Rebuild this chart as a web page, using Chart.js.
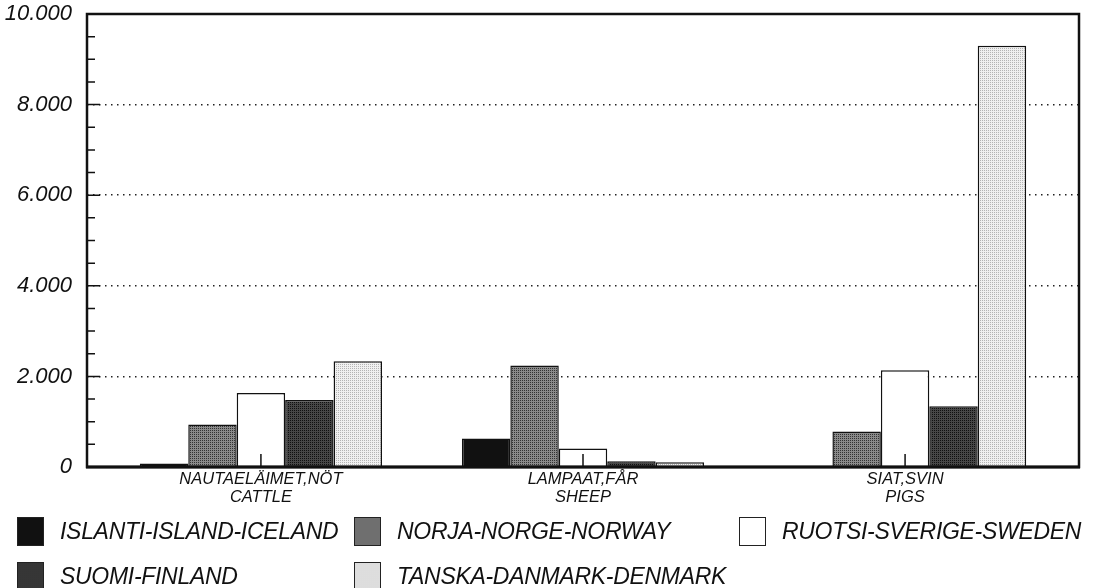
<!DOCTYPE html>
<html>
<head>
<meta charset="utf-8">
<script src="https://cdn.jsdelivr.net/npm/chart.js@4.4.1/dist/chart.umd.min.js"></script>
<style>
  html, body { margin: 0; padding: 0; background: #fff; }
  #wrap { position: relative; width: 1095px; height: 588px; }
  #legend { position: absolute; left: 0; top: 0; width: 1095px; height: 588px; pointer-events: none;
    font-family: "Liberation Sans", Arial, sans-serif; font-style: italic; font-size: 23px; letter-spacing: -0.3px; color: #111; }
  .item { position: absolute; height: 29px; display: flex; align-items: center; white-space: nowrap; }
  .box { width: 27px; height: 29px; box-sizing: border-box; border: 1.5px solid #222; margin-right: 16px; }
</style>
</head>
<body>
<div id="wrap">
  <canvas id="chart" width="1095" height="588"></canvas>
  <div id="legend"></div>
</div>
<script>
const categories = [['NAUTAELÄIMET,NÖT', 'CATTLE'], ['LAMPAAT,FÅR', 'SHEEP'], ['SIAT,SVIN', 'PIGS']]
const countries = ['ISLANTI-ISLAND-ICELAND', 'NORJA-NORGE-NORWAY', 'RUOTSI-SVERIGE-SWEDEN', 'SUOMI-FINLAND', 'TANSKA-DANMARK-DENMARK']

const iceland = [75, 630, 0]
const norway = [940, 2240, 785]
const sweden = [1635, 410, 2135]
const finland = [1480, 125, 1340]
const denmark = [2335, 105, 9300]

const yTicks = [0, 2000, 4000, 6000, 8000, 10000]

// screen fills: base grey plus a dot grey on a 2px grid
const shades = [
  ['#111111', '#111111'],
  ['#8a8a8a', '#333333'],
  ['#ffffff', '#ffffff'],
  ['#474747', '#101010'],
  ['#f0f0f0', '#b4b4b4']
]

const makePattern = (base, dot) => {
  const c = document.createElement('canvas')
  c.width = 2; c.height = 2
  const g = c.getContext('2d')
  g.fillStyle = base; g.fillRect(0, 0, 2, 2)
  g.fillStyle = dot; g.fillRect(0, 0, 1, 1)
  return g.createPattern(c, 'repeat')
}

const ctx = document.getElementById('chart').getContext('2d')

const seriesList = [iceland, norway, sweden, finland, denmark]
const datasets = seriesList.map((vals, i) => ({
  label: countries[i],
  data: vals.map((v, j) => ({ x: j, y: v })),
  backgroundColor: makePattern(shades[i][0], shades[i][1]),
  borderColor: '#111',
  borderWidth: 1.5,
  borderSkipped: 'bottom'
}))

const font = { family: '"Liberation Sans", Arial, sans-serif', style: 'italic' }

// inward ticks, category ticks and the box round the plot
const framePlugin = {
  id: 'frame',
  afterDatasetsDraw(chart) {
    const { ctx, chartArea: a, scales: { x, y } } = chart
    ctx.save()
    ctx.strokeStyle = '#111'
    ctx.lineWidth = 1.5
    ctx.beginPath()
    for (let v = 500; v < 10000; v += 500) {
      const py = y.getPixelForValue(v)
      const len = v % 2000 === 0 ? 13 : 8
      ctx.moveTo(a.left, py)
      ctx.lineTo(a.left + len, py)
    }
    for (let i = 0; i < categories.length; i++) {
      const px = x.getPixelForValue(i)
      ctx.moveTo(px, a.bottom)
      ctx.lineTo(px, a.bottom - 13)
    }
    ctx.stroke()
    ctx.lineWidth = 2.5
    ctx.strokeRect(a.left, a.top, a.right - a.left, a.bottom - a.top)
    ctx.lineWidth = 3
    ctx.beginPath()
    ctx.moveTo(a.left - 1, a.bottom)
    ctx.lineTo(a.right + 1, a.bottom)
    ctx.stroke()
    ctx.restore()
  }
}

new Chart(ctx, {
  type: 'bar',
  data: { datasets },
  plugins: [framePlugin],
  options: {
    responsive: false,
    animation: false,
    events: [],
    layout: { padding: { top: 14, right: 16, bottom: 78, left: 0 } },
    datasets: { bar: { categoryPercentage: 0.752, barPercentage: 1 } },
    plugins: { legend: { display: false }, tooltip: { enabled: false } },
    scales: {
      x: {
        type: 'linear',
        min: -0.54,
        max: 2.54,
        offset: false,
        afterBuildTicks: scale => { scale.ticks = categories.map((c, i) => ({ value: i })) },
        afterFit: scale => { scale.height = 43; scale.paddingLeft = 0; scale.paddingRight = 0 },
        grid: { display: false, drawTicks: false },
        border: { display: false },
        ticks: {
          autoSkip: false,
          maxRotation: 0,
          padding: 4,
          color: '#111',
          font: { ...font, size: 16.5, lineHeight: 1.05 },
          callback: value => categories[value]
        }
      },
      y: {
        min: 0,
        max: 10000,
        afterBuildTicks: scale => { scale.ticks = yTicks.map(v => ({ value: v })) },
        afterFit: scale => { scale.width = 87; scale.paddingTop = 0; scale.paddingBottom = 0 },
        grid: {
          drawTicks: false,
          lineWidth: 1.5,
          color: c => (c.tick && c.tick.value > 0 && c.tick.value < 10000) ? '#222' : 'rgba(0,0,0,0)'
        },
        border: { display: false, dash: [1.5, 4.5] },
        ticks: {
          padding: 15,
          color: '#111',
          font: { ...font, size: 22 },
          callback: v => v.toLocaleString('de-DE')
        }
      }
    }
  }
})

// legend laid out in three columns like the printed key
const legendPos = [[17, 517], [354, 517], [739, 517], [17, 562], [354, 562]]
const legend = document.getElementById('legend')
countries.forEach((name, i) => {
  const item = document.createElement('div')
  item.className = 'item'
  item.style.left = legendPos[i][0] + 'px'
  item.style.top = legendPos[i][1] + 'px'
  const box = document.createElement('div')
  box.className = 'box'
  const [base, dot] = shades[i]
  box.style.background = `radial-gradient(circle, ${dot} 0.5px, ${base} 0.8px) 0 0 / 2px 2px`
  const label = document.createElement('span')
  label.textContent = name
  item.appendChild(box)
  item.appendChild(label)
  legend.appendChild(item)
})
</script>
</body>
</html>
